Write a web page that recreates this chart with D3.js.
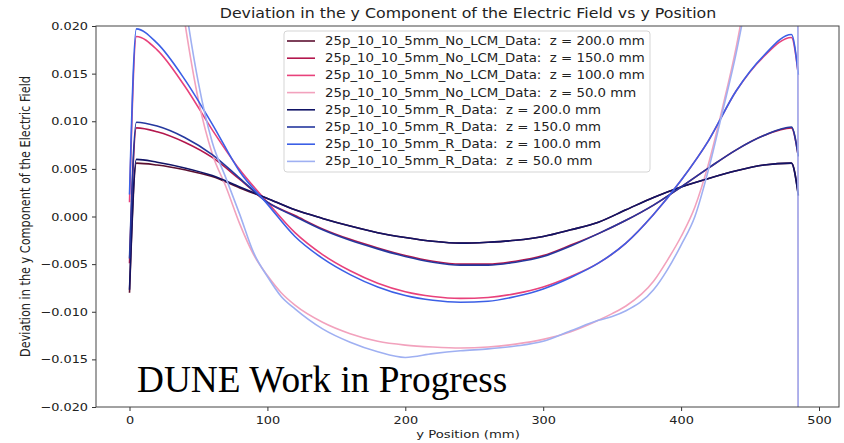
<!DOCTYPE html>
<html>
<head>
<meta charset="utf-8">
<script src="https://cdn.jsdelivr.net/npm/d3@7"></script>
<style>
  body { margin: 0; background: #fff; }
  text { font-family: "DejaVu Sans", sans-serif; }
</style>
</head>
<body>
<script>
// y position (mm) where the z = 100..200 mm curves were read
var yPos = [0, 5, 20, 40, 60, 80, 100, 120, 140, 160, 180, 200, 220, 240, 260, 280, 300, 320, 340, 360, 380, 400, 420, 440, 460, 480, 485];

var noLcm200 = [-0.0080, 0.0056, 0.0054, 0.0049, 0.0042, 0.0030, 0.0019, 0.0007, -0.0002, -0.0010, -0.0017, -0.0022, -0.0026, -0.0028, -0.0027, -0.0025, -0.0021, -0.0014, -0.0006, 0.0007, 0.0020, 0.0031, 0.0040, 0.0048, 0.0054, 0.0056, 0.0023];
var noLcm150 = [-0.0049, 0.0093, 0.0089, 0.0078, 0.0062, 0.0039, 0.0015, 0.0001, -0.0013, -0.0024, -0.0033, -0.0041, -0.0047, -0.0050, -0.0050, -0.0047, -0.0041, -0.0030, -0.0018, -0.0004, 0.0012, 0.0031, 0.0051, 0.0070, 0.0085, 0.0093, 0.0063];
var noLcm100 = [0.0015, 0.0189, 0.0175, 0.0137, 0.0091, 0.0049, 0.0015, -0.0017, -0.0040, -0.0057, -0.0070, -0.0079, -0.0084, -0.0086, -0.0085, -0.0081, -0.0074, -0.0063, -0.0049, -0.0028, 0.0002, 0.0038, 0.0080, 0.0132, 0.0168, 0.0188, 0.0149];
var r200 = [-0.0077, 0.0060, 0.0057, 0.0051, 0.0043, 0.0031, 0.0019, 0.0007, -0.0002, -0.0010, -0.0017, -0.0022, -0.0026, -0.0028, -0.0027, -0.0025, -0.0021, -0.0014, -0.0006, 0.0007, 0.0020, 0.0031, 0.0040, 0.0048, 0.0054, 0.0056, 0.0022];
var r150 = [-0.0044, 0.0099, 0.0095, 0.0083, 0.0065, 0.0040, 0.0015, 0.0000, -0.0014, -0.0025, -0.0034, -0.0042, -0.0048, -0.0051, -0.0051, -0.0048, -0.0042, -0.0031, -0.0018, -0.0004, 0.0012, 0.0031, 0.0051, 0.0070, 0.0085, 0.0094, 0.0063];
var r100 = [0.0023, 0.0197, 0.0182, 0.0144, 0.0097, 0.0047, 0.0013, -0.0021, -0.0044, -0.0061, -0.0074, -0.0083, -0.0088, -0.0090, -0.0089, -0.0084, -0.0076, -0.0064, -0.0049, -0.0028, 0.0002, 0.0038, 0.0080, 0.0132, 0.0169, 0.0191, 0.0149];

// z = 50 mm curves change faster, read on a finer grid (ends run off the plot)
var yPosFine = [0, 5, 20, 30, 40, 50, 60, 70, 80, 90, 100, 110, 120, 140, 160, 180, 200, 220, 240, 260, 280, 300, 320, 340, 350, 360, 380, 390, 400, 410, 420, 430, 440, 450, 460, 480, 485];
var noLcm50 = [0.09, 0.075, 0.045, 0.031, 0.0205, 0.0122, 0.0066, 0.0031, -0.0008, -0.0040, -0.0062, -0.0080, -0.0093, -0.0111, -0.0123, -0.0131, -0.0135, -0.0137, -0.0138, -0.0137, -0.0134, -0.0129, -0.0121, -0.0109, -0.0102, -0.0094, -0.0068, -0.0046, -0.0021, 0.0010, 0.0056, 0.0114, 0.0178, 0.026, 0.036, 1.0, -0.05];
var r50 = [0.09, 0.078, 0.048, 0.034, 0.0228, 0.0140, 0.0078, 0.0040, 0.0002, -0.0038, -0.0063, -0.0084, -0.0097, -0.0118, -0.0132, -0.0142, -0.0148, -0.0144, -0.0141, -0.0139, -0.0136, -0.0131, -0.0120, -0.0109, -0.0105, -0.0099, -0.0077, -0.0056, -0.0030, 0.0000, 0.0050, 0.0110, 0.0172, 0.025, 0.035, 1.0, -0.05];

var labels = [
  "25p_10_10_5mm_No_LCM_Data:  z = 200.0 mm",
  "25p_10_10_5mm_No_LCM_Data:  z = 150.0 mm",
  "25p_10_10_5mm_No_LCM_Data:  z = 100.0 mm",
  "25p_10_10_5mm_No_LCM_Data:  z = 50.0 mm",
  "25p_10_10_5mm_R_Data:  z = 200.0 mm",
  "25p_10_10_5mm_R_Data:  z = 150.0 mm",
  "25p_10_10_5mm_R_Data:  z = 100.0 mm",
  "25p_10_10_5mm_R_Data:  z = 50.0 mm"
];
var colors = ["#5c1030", "#b3174d", "#e8417b", "#f2a2bd", "#111466", "#25389e", "#3b5fe6", "#9fb0f2"];
var xTicks = [0, 100, 200, 300, 400, 500];
var yTicks = [-0.020, -0.015, -0.010, -0.005, 0.000, 0.005, 0.010, 0.015, 0.020];

var series = [
  {xs: yPos, ys: noLcm200}, {xs: yPos, ys: noLcm150}, {xs: yPos, ys: noLcm100}, {xs: yPosFine, ys: noLcm50},
  {xs: yPos, ys: r200}, {xs: yPos, ys: r150}, {xs: yPos, ys: r100}, {xs: yPosFine, ys: r50}
];
series.forEach(function(s, i) { s.label = labels[i]; s.color = colors[i]; });

var width = 844, height = 443;
var plotLeft = 96, plotRight = 839, plotTop = 26, plotBottom = 407;
var sx = 1.17; // the picture is a little wider than tall

var svg = d3.select("body").append("svg")
    .attr("width", width)
    .attr("height", height);

var x = d3.scaleLinear().domain([-24.3, 514.5]).range([plotLeft, plotRight]);
var y = d3.scaleLinear().domain([-0.02, 0.02]).range([plotBottom, plotTop]);

svg.append("clipPath").attr("id", "plot")
  .append("rect")
    .attr("x", plotLeft).attr("y", plotTop)
    .attr("width", plotRight - plotLeft).attr("height", plotBottom - plotTop);

// curves
var line = d3.line()
    .x(function(d){ return x(d[0]) })
    .y(function(d){ return y(d[1]) })
    .curve(d3.curveMonotoneX);

svg.append("g")
    .attr("clip-path", "url(#plot)")
  .selectAll("path")
  .data(series)
  .enter().append("path")
    .attr("d", function(d){ return line(d3.zip(d.xs, d.ys)) })
    .style("fill", "none")
    .style("stroke", function(d){ return d.color })
    .style("stroke-width", 1.6);

// axes
var xAxis = svg.append("g")
    .attr("transform", "translate(0," + plotBottom + ")")
    .call(d3.axisBottom(x).tickValues(xTicks).tickSize(4).tickPadding(5));
var yAxis = svg.append("g")
    .attr("transform", "translate(" + plotLeft + ",0)")
    .call(d3.axisLeft(y).tickValues(yTicks).tickFormat(d3.format(".3f")).tickSize(4).tickPadding(4));

[xAxis, yAxis].forEach(function(g) {
  g.select(".domain").remove();
  g.selectAll("line").attr("stroke", "#333");
  g.selectAll("text")
      .attr("font-size", 11)
      .attr("fill", "#222");
});
yAxis.selectAll("text")
    .attr("x", -8 / sx)
    .attr("transform", "scale(" + sx + ",1)");
xAxis.selectAll("text")
    .attr("transform", "scale(" + sx + ",1)");

svg.append("rect")
    .attr("x", plotLeft).attr("y", plotTop)
    .attr("width", plotRight - plotLeft).attr("height", plotBottom - plotTop)
    .style("fill", "none")
    .style("stroke", "#444")
    .style("stroke-width", 1);

// titles
svg.append("text")
    .attr("transform", "translate(468,18) scale(" + sx + ",1)")
    .attr("text-anchor", "middle")
    .attr("font-size", 13.5)
    .attr("fill", "#222")
    .text("Deviation in the y Component of the Electric Field vs y Position");

svg.append("text")
    .attr("transform", "translate(468,438) scale(" + sx + ",1)")
    .attr("text-anchor", "middle")
    .attr("font-size", 11.3)
    .attr("fill", "#222")
    .text("y Position (mm)");

svg.append("text")
    .attr("transform", "translate(30,216.5) rotate(-90) scale(1," + sx + ")")
    .attr("text-anchor", "middle")
    .attr("font-size", 11.3)
    .attr("fill", "#222")
    .text("Deviation in the y Component of the Electric Field");

// legend
var legend = svg.append("g");
legend.append("rect")
    .attr("x", 284).attr("y", 31)
    .attr("width", 366).attr("height", 141)
    .attr("rx", 3)
    .style("fill", "#fff")
    .style("fill-opacity", 0.85)
    .style("stroke", "#d5d5d5");

var rows = legend.selectAll(".row")
  .data(series)
  .enter().append("g")
    .attr("transform", function(d, i){ return "translate(0," + (41 + i * 17.2) + ")" });
rows.append("line")
    .attr("x1", 287).attr("x2", 315)
    .style("stroke", function(d){ return d.color })
    .style("stroke-width", 1.6);
rows.append("text")
    .attr("transform", "translate(325,4) scale(" + sx + ",1)")
    .attr("font-size", 11.4)
    .attr("fill", "#222")
    .style("white-space", "pre")
    .text(function(d){ return d.label });

// watermark
svg.append("text")
    .attr("x", 137).attr("y", 392)
    .style("font-family", "'Liberation Serif', serif")
    .attr("font-size", 37.3)
    .attr("fill", "#000")
    .text("DUNE Work in Progress");
</script>
</body>
</html>
